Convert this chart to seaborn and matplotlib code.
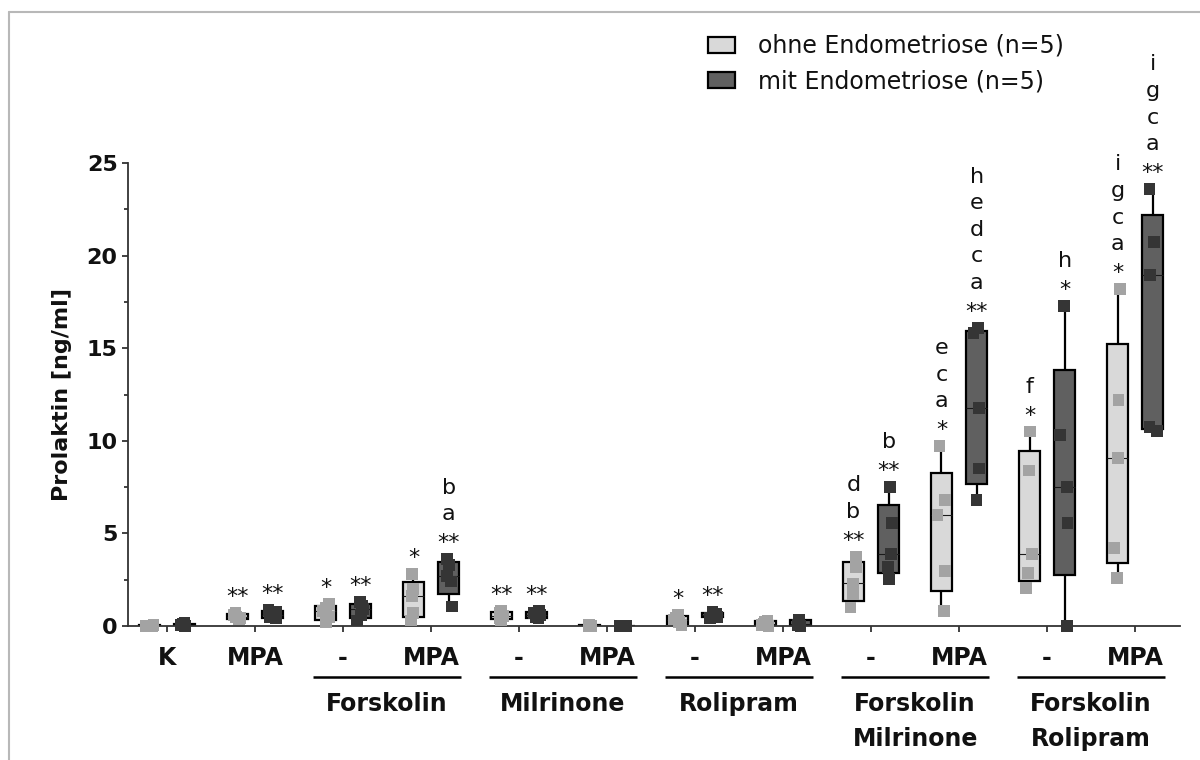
import numpy as np
import pandas as pd
import matplotlib
matplotlib.use("Agg")
import matplotlib as mpl
import matplotlib.pyplot as plt
import matplotlib.transforms as mtransforms
from matplotlib.patches import Patch
from matplotlib.lines import Line2D
import seaborn as sns

# ---- data -------------------------------------------------------------
treatments = ["K", "MPA", "-", "MPA", "-", "MPA", "-", "MPA", "-", "MPA", "-", "MPA"]
group_names = [["Forskolin"], ["Milrinone"], ["Rolipram"],
               ["Forskolin", "Milrinone"], ["Forskolin", "Rolipram"]]
group_first = [2, 4, 6, 8, 10]
cohorts = ["ohne Endometriose (n=5)", "mit Endometriose (n=5)"]

ohne_values = [
    [0.0, 0.0, 0.02, 0.03, 0.05],      # K
    [0.35, 0.45, 0.5, 0.6, 0.7],       # MPA
    [0.2, 0.5, 0.8, 1.0, 1.2],         # Forskolin -
    [0.3, 0.7, 1.6, 2.0, 2.8],         # Forskolin MPA
    [0.3, 0.45, 0.55, 0.7, 0.8],       # Milrinone -
    [0.0, 0.0, 0.01, 0.02, 0.04],      # Milrinone MPA
    [0.05, 0.2, 0.35, 0.45, 0.6],      # Rolipram -
    [0.0, 0.05, 0.1, 0.2, 0.3],        # Rolipram MPA
    [1.0, 1.7, 2.3, 3.2, 3.75],        # Forskolin+Milrinone -
    [0.8, 2.95, 6.0, 6.8, 9.7],        # Forskolin+Milrinone MPA
    [2.05, 2.85, 3.9, 8.4, 10.5],      # Forskolin+Rolipram -
    [2.6, 4.2, 9.05, 12.2, 18.2],      # Forskolin+Rolipram MPA
]
mit_values = [
    [0.0, 0.02, 0.05, 0.1, 0.15],
    [0.4, 0.5, 0.6, 0.75, 0.85],
    [0.3, 0.6, 0.9, 1.1, 1.3],
    [1.05, 2.4, 2.7, 3.3, 3.6],
    [0.4, 0.5, 0.6, 0.7, 0.8],
    [0.0, 0.0, 0.01, 0.02, 0.03],
    [0.45, 0.5, 0.6, 0.65, 0.75],
    [0.0, 0.05, 0.1, 0.25, 0.35],
    [2.55, 3.2, 3.9, 5.55, 7.5],
    [6.8, 8.5, 11.75, 15.8, 16.1],
    [0.0, 5.55, 7.5, 10.3, 17.3],
    [10.55, 10.75, 18.95, 20.75, 23.6],
]

# significance marks, listed from bottom to top
ohne_marks = [[], ["**"], ["*"], ["*"], ["**"], [], ["*"], [],
              ["**", "b", "d"], ["*", "a", "c", "e"], ["*", "f"],
              ["*", "a", "c", "g", "i"]]
mit_marks = [[], ["**"], ["**"], ["**", "a", "b"], ["**"], [], ["**"], [],
             ["**", "b"], ["**", "a", "c", "d", "e", "h"], ["*", "h"],
             ["**", "a", "c", "g", "i"]]

box_fill = {cohorts[0]: "#d9d9d9", cohorts[1]: "#606060"}
point_color = {cohorts[0]: "#a3a3a3", cohorts[1]: "#353535"}

# ---- long table -------------------------------------------------------
cond_keys = [f"c{i}" for i in range(len(treatments))]
rows = []
for cohort, series in zip(cohorts, [ohne_values, mit_values]):
    for key, vals in zip(cond_keys, series):
        for v in vals:
            rows.append({"cond": key, "cohort": cohort, "value": v})
df = pd.DataFrame(rows)

# Quartiles as in GraphPad Prism ((n+1)p rank interpolation)
_base_stats = mpl.cbook.boxplot_stats


def prism_boxplot_stats(X, *args, **kwargs):
    stats = _base_stats(X, *args, **kwargs)
    for st, x in zip(stats, X):
        x = np.asarray(x, dtype=float)
        q1, med, q3 = np.percentile(x, [25, 50, 75], method="weibull")
        st.update(q1=q1, med=med, q3=q3, iqr=q3 - q1)
    return stats


mpl.cbook.boxplot_stats = prism_boxplot_stats

# ---- figure -----------------------------------------------------------
sns.set_theme(style="ticks")
plt.rcParams["font.family"] = ["DejaVu Sans"]
for key in ["text.color", "axes.labelcolor", "xtick.labelcolor",
            "ytick.labelcolor"]:
    plt.rcParams[key] = "#111111"

W, H = 1200, 760
fig = plt.figure(figsize=(W / 100, H / 100), dpi=100)
ax_left, ax_right, ax_bottom, ax_top = 128, 1180, 626, 163
ax = fig.add_axes([ax_left / W, 1 - ax_bottom / H,
                   (ax_right - ax_left) / W, (ax_bottom - ax_top) / H])

sns.boxplot(data=df, x="cond", y="value", hue="cohort", order=cond_keys,
            hue_order=cohorts, palette=box_fill, saturation=1, width=0.8,
            gap=0.4, whis=(0, 100), linecolor="black", linewidth=1.6,
            showcaps=False, legend=False, ax=ax,
            medianprops=dict(color="#1a1a1a", linewidth=0.8))

np.random.seed(7)
sns.stripplot(data=df, x="cond", y="value", hue="cohort", order=cond_keys,
              hue_order=cohorts, palette=point_color, dodge=True, jitter=0.1,
              marker="s", size=8.5, linewidth=0, legend=False, ax=ax,
              zorder=4, clip_on=False)

ax.set_xlim(-0.443, 11.51)
ax.set_ylim(0, 25)

# axes styling
for side in ["top", "right"]:
    ax.spines[side].set_visible(False)
for side in ["left", "bottom"]:
    ax.spines[side].set_color("#333333")
    ax.spines[side].set_linewidth(1.3)
ax.spines["left"].set_bounds(0, 25)

ax.set_xticks(range(len(treatments)))
ax.set_xticklabels(treatments, fontsize=17, fontweight="bold")
ax.set_yticks(range(0, 26, 5))
ax.set_yticklabels([str(v) for v in range(0, 26, 5)], fontsize=16,
                   fontweight="bold")
ax.set_yticks(np.arange(2.5, 25, 5), minor=True)
ax.tick_params(axis="x", length=4.5, width=1.3, color="#333333", pad=9.7)
ax.tick_params(axis="y", which="major", length=4.5, width=1.3,
               color="#333333", pad=3)
ax.tick_params(axis="y", which="minor", length=3, width=1.3, color="#333333")
ax.set_xlabel("")
ax.set_ylabel("Prolaktin [ng/ml]", fontsize=16, fontweight="bold")
ax.yaxis.set_label_coords((72 - ax_left) / (ax_right - ax_left), 0.5)

# treatment groups below the axis
trans = mtransforms.blended_transform_factory(ax.transData, ax.transAxes)
axh = ax_bottom - ax_top
line_y = (ax_bottom - 677) / axh
for first, names in zip(group_first, group_names):
    ax.plot([first - 0.34, first + 1.34], [line_y, line_y], transform=trans,
            color="black", lw=1.8, clip_on=False, solid_capstyle="butt")
    for k, name in enumerate(names):
        base_px = 710.6 + 35 * k
        ax.text(first + 0.5, (ax_bottom - base_px) / axh, name,
                transform=trans, ha="center", va="baseline", fontsize=17,
                fontweight="bold")

# significance marks above each box
offsets = [-0.2, 0.2]
for off, series, marks in zip(offsets, [ohne_values, mit_values],
                              [ohne_marks, mit_marks]):
    for i, (vals, labels) in enumerate(zip(series, marks)):
        top = max(vals)
        for k, lab in enumerate(labels):
            dy = 7.2 if k == 0 else 28 + 19.1 * (k - 1)
            ax.annotate(lab, xy=(i + off, top), xytext=(0, dy),
                        textcoords="offset points", ha="center",
                        va="baseline", fontsize=16, color="#111111",
                        annotation_clip=False)

# legend
handles = [Patch(facecolor=box_fill[c], edgecolor="black", linewidth=1.6)
           for c in cohorts]
fig.legend(handles, cohorts, loc="upper left",
           bbox_to_anchor=(708 / W, 1 - 34 / H), frameon=False, fontsize=17,
           handlelength=1.14, handleheight=0.64, handletextpad=0.97,
           labelspacing=0.48, borderpad=0, borderaxespad=0)

# thin outer frame
fig.add_artist(Line2D([9 / W, 9 / W], [0, 1 - 11.5 / H], color="#b8b8b8",
                      lw=1.5, transform=fig.transFigure))
fig.add_artist(Line2D([9 / W, 1], [1 - 11.5 / H, 1 - 11.5 / H],
                      color="#b8b8b8", lw=1.5, transform=fig.transFigure))

fig.savefig("out.png", dpi=100)
